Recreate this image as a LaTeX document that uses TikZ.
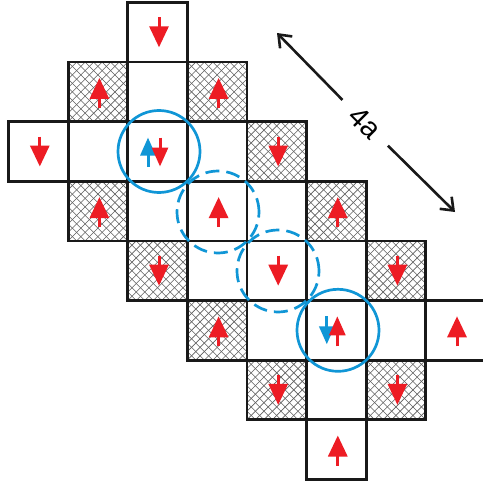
\documentclass[tikz,border=0pt]{standalone}
\usepackage{fontspec}
\setmainfont{Liberation Sans}
\usetikzlibrary{arrows.meta,calc}
\definecolor{spinred}{RGB}{237,28,36}
\definecolor{spinblue}{RGB}{16,150,214}
\definecolor{hatchgray}{RGB}{95,95,95}
\tikzset{
  cellbox/.style={draw=black!90, line width=2.8pt, minimum size=59.6pt, inner sep=0pt, outer sep=0pt, fill=white},
  hatched/.style={cellbox, path picture={
    \foreach \k in {-7,...,7}{
      \draw[hatchgray,line width=0.6pt] ([shift={(\k*8.514pt-32pt,-32pt)}]path picture bounding box.center) -- ++(64pt,64pt);
      \draw[hatchgray,line width=0.6pt] ([shift={(\k*8.514pt-32pt,32pt)}]path picture bounding box.center) -- ++(64pt,-64pt);
    }}},
  spinr/.style={draw=spinred, line width=3pt, -{Triangle[length=21pt,width=19pt]}},
  spinrs/.style={draw=spinred, line width=3pt, -{Triangle[length=19pt,width=16pt]}},
  spinb/.style={draw=spinblue, line width=3pt, -{Triangle[length=18pt,width=15pt]}},
  ring/.style={circle, draw=spinblue, line width=2.7pt, minimum size=82pt, inner sep=0pt},
  dashring/.style={ring, dash pattern=on 14pt off 7pt},
  dimarrow/.style={draw=black!90, line width=2.6pt, -{Straight Barb[length=11pt,width=17pt]}},
}
\begin{document}
\begin{tikzpicture}[x=1pt,y=-1pt]
\useasboundingbox (0,0) rectangle (482,484);
% cells
\foreach \c/\r/\t in {
  2/0/cellbox,
  1/1/hatched, 2/1/cellbox, 3/1/hatched,
  0/2/cellbox, 1/2/cellbox, 2/2/cellbox, 3/2/cellbox, 4/2/hatched,
  1/3/hatched, 2/3/cellbox, 3/3/cellbox, 4/3/cellbox, 5/3/hatched,
  2/4/hatched, 3/4/cellbox, 4/4/cellbox, 5/4/cellbox, 6/4/hatched,
  3/5/hatched, 4/5/cellbox, 5/5/cellbox, 6/5/cellbox, 7/5/cellbox,
  4/6/hatched, 5/6/cellbox, 6/6/hatched,
  5/7/cellbox}
  \node[\t] (c\c\r) at ({8.5+(\c+0.5)*59.6},{2.5+(\r+0.5)*59.6}) {};
% single spins
\foreach \n in {c20,c02,c42,c24,c44,c64,c46,c66}
  \draw[spinr] ($(\n)+(1.5,-15)$) -- ($(\n)+(1.5,15)$);
\foreach \n in {c11,c31,c13,c33,c53,c35,c75,c57}
  \draw[spinr] ($(\n)+(1.5,16)$) -- ($(\n)+(1.5,-14)$);
% doubly occupied sites
\draw[spinb] ($(c22)+(-9.5,15)$) -- ($(c22)+(-9.5,-14)$);
\draw[spinrs] ($(c22)+(2.5,-14)$) -- ($(c22)+(2.5,15)$);
\draw[spinb] ($(c55)+(-9.5,-14)$) -- ($(c55)+(-9.5,14)$);
\draw[spinrs] ($(c55)+(1,16)$) -- ($(c55)+(1,-14)$);
% rings
\node[ring] (ringA) at ($(c22)+(1.5,0)$) {};
\node[ring] (ringB) at ($(c55)+(1.7,0)$) {};
\node[dashring] (ringC) at ($(c33)+(0.9,0.9)$) {};
\node[dashring] (ringD) at ($(c44)+(1.3,0.3)$) {};
% 4a dimension
\coordinate (tipA) at (277,33);
\coordinate (tipB) at (455,212);
\node[font=\fontsize{29}{29}\selectfont, rotate=-45, minimum width=64pt, inner sep=0pt] (lbl) at (365,123) {4a};
\draw[dimarrow] (lbl) -- (tipA);
\draw[dimarrow] (lbl) -- (tipB);
\end{tikzpicture}
\end{document}
